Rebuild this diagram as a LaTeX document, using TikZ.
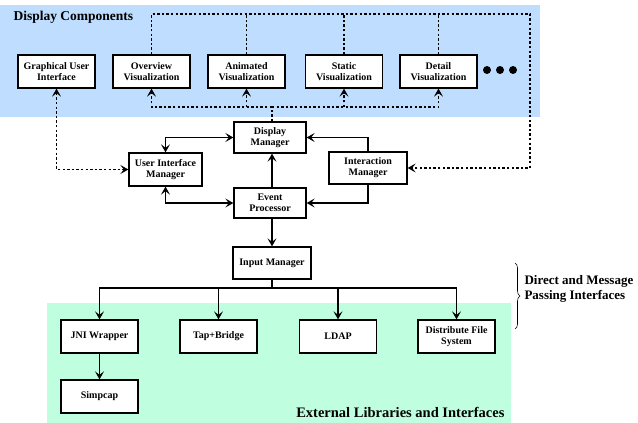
\documentclass[tikz,border=0pt]{standalone}
\usepackage{fontspec}
\setmainfont{Liberation Serif}
\usetikzlibrary{positioning,arrows.meta,decorations.pathreplacing}
\definecolor{dispblue}{RGB}{191,222,255}
\definecolor{extgreen}{RGB}{191,255,224}

\begin{document}
\begin{tikzpicture}[x=1pt, y=-1pt, on grid, font=\fontsize{10}{11}\selectfont\bfseries,
	box/.style={draw, line width=1.3pt, fill=white, minimum width=77pt, minimum height=33pt, inner sep=1pt, align=center},
	tip/.style={-{Stealth[length=8pt,width=9pt,inset=3.5pt]}},
	duotip/.style={{Stealth[length=8pt,width=9pt,inset=3.5pt]}-{Stealth[length=8pt,width=9pt,inset=3.5pt]}},
	link/.style={line width=1.2pt},
	dots/.style={line width=1.4pt, dash pattern=on 2.4pt off 2.2pt}]
	\useasboundingbox (0,0) rectangle (638,423);
	
	% regions
	\fill[dispblue] (0,5) rectangle (540,117);
	\fill[extgreen] (47,303) rectangle (511,423);
	\node[anchor=base west, font=\fontsize{13.5}{16}\selectfont\bfseries] (disptitle) at (10,20) {Display Components};
	\node[anchor=base east, font=\fontsize{14.5}{17}\selectfont\bfseries] (exttitle) at (508,417) {External Libraries and Interfaces};
	
	% display components
	\node[box] (gui) at (56.5,71.5) {Graphical User\\Interface};
	\node[box, right=95pt of gui] (overview) {Overview\\Visualization};
	\node[box, right=95pt of overview] (animated) {Animated\\Visualization};
	\node[box, right=97.5pt of animated] (static) {Static\\Visualization};
	\node[box, right=94.5pt of static] (detail) {Detail\\Visualization};
	\foreach \dx in {487,500,513}
		\fill (\dx,70) circle (4pt);
	
	% managers
	\node[box, minimum width=72pt, minimum height=31pt] (dispmgr) at (270,137.5) {Display\\Manager};
	\node[box, minimum width=73pt] (uimgr) at (165.5,169.5) {User Interface\\Manager};
	\node[box, minimum width=72pt, minimum height=30pt] (evtproc) at (270,203) {Event\\Processor};
	\node[box, minimum width=78pt, minimum height=32pt] (intmgr) at (368,168) {Interaction\\Manager};
	\node[box, minimum width=78pt, minimum height=32pt] (inputmgr) at (272,263) {Input Manager};
	
	% external libraries
	\node[box] (jni) at (99.5,336.5) {JNI Wrapper};
	\node[box, right=119pt of jni] (tapbridge) {Tap+Bridge};
	\node[box, right=119.5pt of tapbridge] (ldap) {LDAP};
	\node[box, right=118.5pt of ldap] (dfs) {Distribute File\\System};
	\node[box, below=60pt of jni] (simpcap) {Simpcap};
	
	\coordinate (topright) at (530,14);
	\coordinate (hub) at (272,107);
	\coordinate (bus) at (272,288);
	
	% dotted links
	\draw[dots, duotip] (gui.south) |- (uimgr.west);
	\draw[dots, tip] (overview.north) |- (topright) |- (intmgr.east);
	\foreach \n in {animated,static,detail}
		\draw[dots] (\n.north) -- (\n.north |- topright);
	\draw[dots] (dispmgr.north -| hub) -- (hub);
	\draw[dots, tip] (hub) -| (overview.south);
	\draw[dots, tip] (hub) -| (detail.south);
	\draw[dots, tip] (animated.south |- hub) -- (animated.south);
	\draw[dots, tip] (static.south |- hub) -- (static.south);
	
	% solid links
	\draw[link, duotip] (uimgr.north) |- (dispmgr.west);
	\draw[link, duotip] (uimgr.south) |- (evtproc.west);
	\draw[link, tip] (intmgr.north) |- (dispmgr.east);
	\draw[link, tip] (intmgr.south) |- (evtproc.east);
	\draw[link, tip] (evtproc.north -| hub) -- (dispmgr.south -| hub);
	\draw[link, tip] (evtproc.south -| hub) -- (inputmgr.north);
	\draw[link] (inputmgr.south) -- (bus);
	\foreach \n in {jni,tapbridge,ldap,dfs}
		\draw[link, tip] (bus) -| (\n.north);
	\draw[link, tip] (jni) -- (simpcap);
	
	% brace
	\draw[line width=0.6pt, decorate, decoration={brace, amplitude=5pt}] (515,263) -- (515,329);
	\node[anchor=west, align=left, font=\fontsize{13}{15}\selectfont\bfseries] (brtext) at (521,289) {Direct and Message\\Passing Interfaces};
\end{tikzpicture}
\end{document}
